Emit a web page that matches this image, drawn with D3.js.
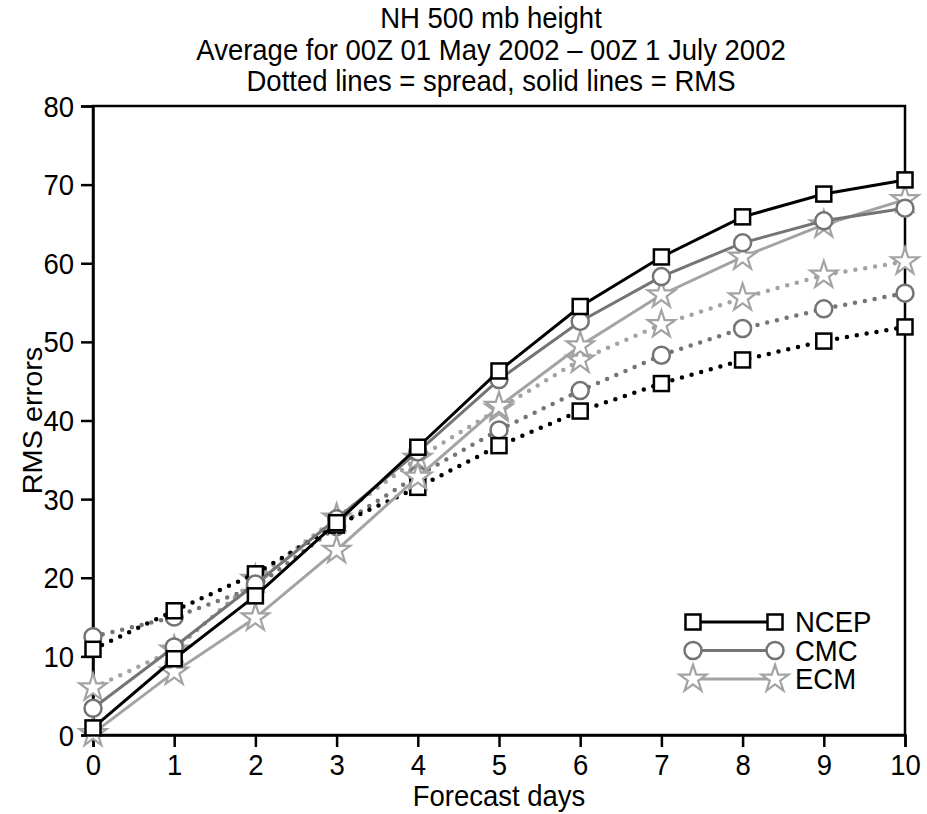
<!DOCTYPE html>
<html>
<head>
<meta charset="utf-8">
<script src="https://cdn.jsdelivr.net/npm/d3@7"></script>
<style>
  body { margin: 0; background: #fff; }
  text { font-family: "Liberation Sans", Arial, sans-serif; }
</style>
</head>
<body>
<div id="chart"></div>
<script>
// forecast days and values
const days = [0, 1, 2, 3, 4, 5, 6, 7, 8, 9, 10];
const ncepRms    = [0.9, 9.7, 17.7, 27.0, 36.6, 46.3, 54.5, 60.8, 65.9, 68.8, 70.6];
const ncepSpread = [10.9, 15.8, 20.5, 26.7, 31.5, 36.8, 41.2, 44.7, 47.7, 50.1, 51.9];
const cmcRms     = [3.4, 11.2, 19.2, 27.5, 36.0, 45.2, 52.6, 58.3, 62.6, 65.4, 67.0];
const cmcSpread  = [12.5, 15.0, 18.8, 26.5, 33.0, 38.8, 43.8, 48.3, 51.7, 54.2, 56.2];
const ecmRms     = [0.2, 8.0, 14.9, 23.5, 32.8, 41.8, 49.5, 56.0, 60.8, 64.9, 68.1];
const ecmSpread  = [6.0, 10.8, 19.8, 27.6, 35.2, 41.5, 47.7, 52.2, 55.6, 58.5, 60.2];
const yTicks = [0, 10, 20, 30, 40, 50, 60, 70, 80];
const titleLines = ["NH 500 mb height",
  "Average for 00Z 01 May 2002 \u2013 00Z 1 July 2002",
  "Dotted lines = spread, solid lines = RMS"];

const models = [
  { name: "ECM",  rms: ecmRms,  spread: ecmSpread,  color: "#a3a3a3", shape: "star" },
  { name: "CMC",  rms: cmcRms,  spread: cmcSpread,  color: "#747474", shape: "circle" },
  { name: "NCEP", rms: ncepRms, spread: ncepSpread, color: "#000000", shape: "square" }
];

const W = 927, H = 814;
const margin = { top: 106, right: 22, bottom: 79, left: 93 };
const FS = 27.5;     // font size
const SY = 1.05;     // text in the picture is a bit taller than wide

const svg = d3.select("#chart").append("svg")
  .attr("width", W).attr("height", H);

const x = d3.scaleLinear().domain([0, 10]).range([margin.left, W - margin.right]);
const y = d3.scaleLinear().domain([0, 80]).range([H - margin.bottom, margin.top]);

// title
svg.append("g").selectAll("text")
  .data(titleLines)
  .join("text")
  .attr("transform", (d, i) => `translate(491,${28 + i * 31.5}) scale(1,${SY})`)
  .attr("text-anchor", "middle")
  .attr("font-size", FS)
  .text(d => d);

// frame
svg.append("rect")
  .attr("x", x(0)).attr("y", y(80))
  .attr("width", x(10) - x(0)).attr("height", y(0) - y(80))
  .attr("fill", "none").attr("stroke", "#000").attr("stroke-width", 2.5);

const xAxis = svg.append("g")
  .attr("transform", `translate(0,${y(0)})`)
  .call(d3.axisBottom(x).tickValues(days).tickSize(12).tickPadding(4).tickFormat(d3.format("d")));
const yAxis = svg.append("g")
  .attr("transform", `translate(${x(0)},0)`)
  .call(d3.axisLeft(y).tickValues(yTicks).tickSize(12).tickPadding(7));
[xAxis, yAxis].forEach(g => {
  g.select(".domain").attr("stroke-width", 2.5);
  g.selectAll(".tick line").attr("stroke-width", 2.5);
  g.selectAll(".tick text").attr("font-size", FS).attr("fill", "#000")
    .style("font-family", "'Liberation Sans', Arial, sans-serif");
});
xAxis.selectAll(".tick text")
  .attr("dy", null).attr("y", 0)
  .attr("transform", `translate(0,40) scale(1,${SY})`);
yAxis.selectAll(".tick text")
  .attr("dy", null).attr("x", 0)
  .attr("transform", `translate(-19,10) scale(1,${SY})`);

svg.append("text")
  .attr("transform", `translate(${x(5)},806) scale(1,${SY})`)
  .attr("text-anchor", "middle").attr("font-size", FS)
  .text("Forecast days");
svg.append("text")
  .attr("transform", `translate(42,${y(40)}) rotate(-90) scale(${SY},1)`)
  .attr("text-anchor", "middle").attr("font-size", FS)
  .text("RMS errors");

const starPath = d3.symbol().type(d3.symbolStar).size(230)();
function drawMarker(g, shape, color) {
  if (shape === "square") {
    g.append("rect").attr("x", -7.5).attr("y", -7.5).attr("width", 15).attr("height", 15)
      .attr("fill", "#fff").attr("stroke", color).attr("stroke-width", 2.5);
  } else if (shape === "circle") {
    g.append("circle").attr("r", 8.5)
      .attr("fill", "#fff").attr("stroke", color).attr("stroke-width", 2.5);
  } else {
    g.append("path").attr("d", starPath)
      .attr("fill", "#fff").attr("stroke", color).attr("stroke-width", 2.2);
  }
}

const line = d3.line().x((d, i) => x(days[i])).y(d => y(d));
const plot = svg.append("g");

// spread lines first (dotted)
models.forEach(m => {
  plot.append("path")
    .attr("d", line(m.spread))
    .attr("fill", "none").attr("stroke", m.color)
    .attr("stroke-width", 4.5).attr("stroke-linecap", "round")
    .attr("stroke-dasharray", "0,10");
  m.spread.forEach((v, i) => {
    const g = plot.append("g").attr("transform", `translate(${x(days[i])},${y(v)})`);
    drawMarker(g, m.shape, m.color);
  });
});

// rms lines (solid)
models.forEach(m => {
  plot.append("path")
    .attr("d", line(m.rms))
    .attr("fill", "none").attr("stroke", m.color).attr("stroke-width", 3);
  m.rms.forEach((v, i) => {
    const g = plot.append("g").attr("transform", `translate(${x(days[i])},${y(v)})`);
    drawMarker(g, m.shape, m.color);
  });
});

// legend
const legend = svg.append("g");
const legendOrder = ["NCEP", "CMC", "ECM"];
legendOrder.forEach((name, i) => {
  const m = models.find(d => d.name === name);
  const ly = 622 + i * 28.5;
  legend.append("line")
    .attr("x1", 693).attr("x2", 775).attr("y1", ly).attr("y2", ly)
    .attr("stroke", m.color).attr("stroke-width", 3);
  [693, 775].forEach(lx => {
    const g = legend.append("g").attr("transform", `translate(${lx},${ly})`);
    drawMarker(g, m.shape, m.color);
  });
  legend.append("text")
    .attr("transform", `translate(795,${ly + 10}) scale(1,${SY})`)
    .attr("font-size", FS)
    .text(name);
});
</script>
</body>
</html>
